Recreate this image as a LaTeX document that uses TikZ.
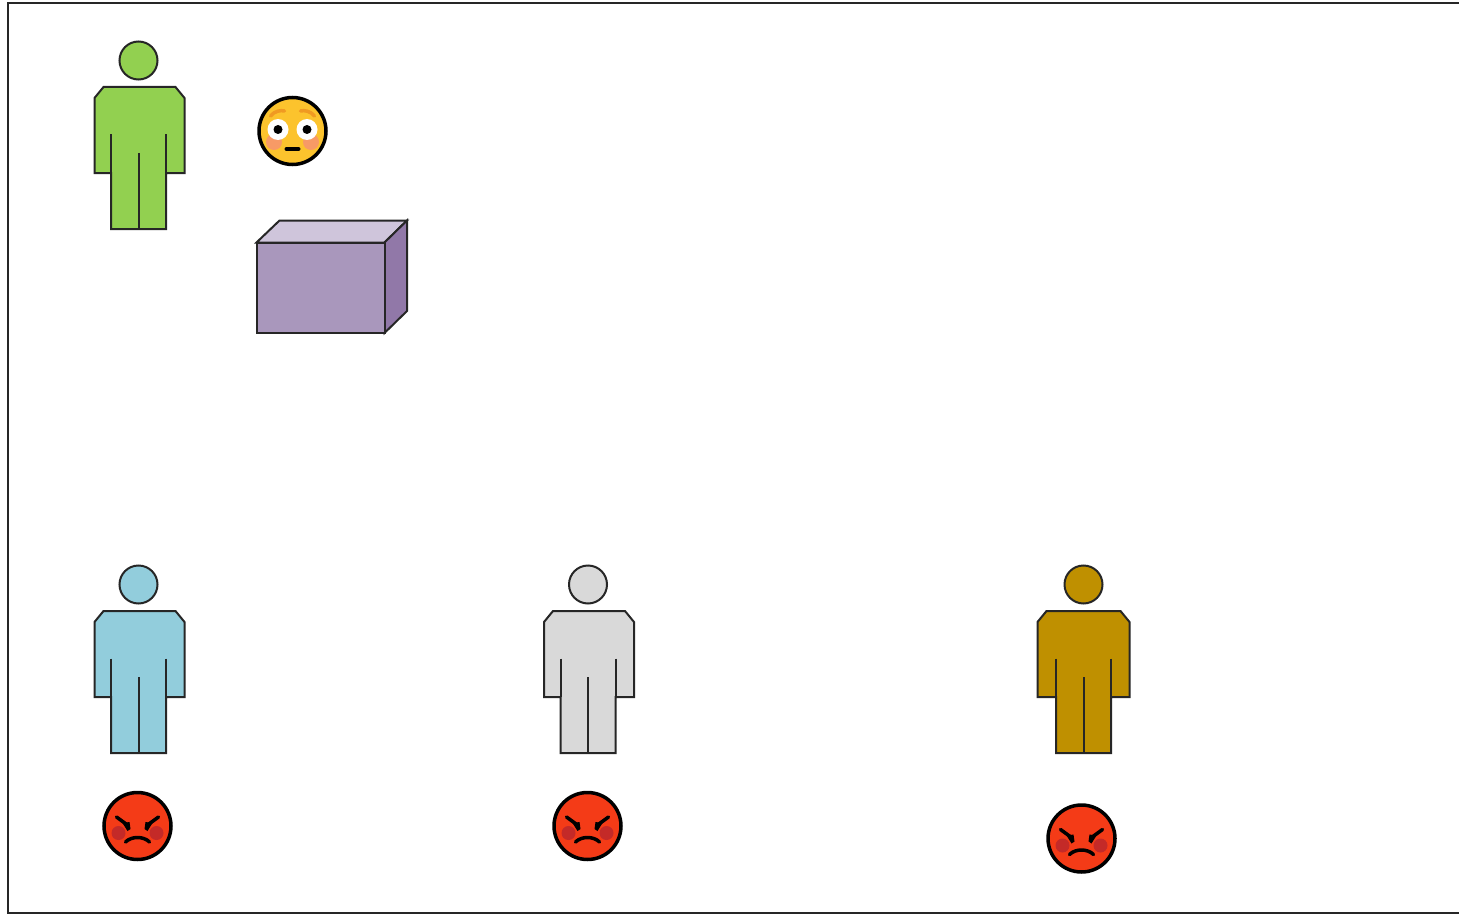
\documentclass[tikz,border=0pt]{standalone}
\usepackage{tikz}

\definecolor{boxfront}{HTML}{A997BC}
\definecolor{boxtop}{HTML}{CFC5DB}
\definecolor{boxside}{HTML}{9178A8}
\definecolor{persongreen}{HTML}{92D050}
\definecolor{personblue}{HTML}{92CDDC}
\definecolor{persongray}{HTML}{D9D9D9}
\definecolor{persongold}{HTML}{BF9000}
\definecolor{faceyellow}{HTML}{FCC32D}
\definecolor{facebrow}{HTML}{F09A22}
\definecolor{faceblush}{HTML}{F79A66}
\definecolor{facered}{HTML}{F43B17}
\definecolor{facedark}{HTML}{C42A28}

\tikzset{
  outline/.style={draw=black!85, line width=2pt, line join=miter},
  pics/person/.style n args={3}{code={
    \draw[outline, fill=#1] (0,0) circle (19);
    \draw[outline, fill=#1] (-#2,37.5) -- (-#2+9,26.5) -- (#3-9,26.5) -- (#3,37.5)
      -- (#3,112.5) -- (27.5,112.5) -- (27.5,168.5) -- (-27.5,168.5) -- (-27.5,112.5)
      -- (-#2,112.5) -- cycle;
    \draw[outline] (-27.5,74) -- (-27.5,112.5);
    \draw[outline] (27.5,74) -- (27.5,112.5);
    \draw[outline] (0,92.5) -- (0,168.5);
  }},
  pics/flushed/.style={code={
    \fill[faceyellow] (0,0) circle (33);
    \fill[faceblush] (-18.5,11) circle (8);
    \fill[faceblush] (18.5,11) circle (8);
    \draw[facebrow, line width=3.5pt, line cap=round] (-22,-15) .. controls (-18,-20) and (-12,-21) .. (-8,-20);
    \draw[facebrow, line width=3.5pt, line cap=round] (22,-15) .. controls (18,-20) and (12,-21) .. (8,-20);
    \fill[white] (-14.5,-1.5) circle (10.5);
    \fill[white] (14.5,-1.5) circle (10.5);
    \fill[black] (-14.5,-1.5) circle (4.5);
    \fill[black] (14.5,-1.5) circle (4.5);
    \draw[black, line width=4pt, line cap=round] (-6,18) -- (6,18);
    \draw[black, line width=3.5pt] (0,0) circle (33.5);
  }},
  pics/angry/.style={code={
    \fill[facered] (0,0) circle (33);
    \fill[facedark] (-19,7) circle (7);
    \fill[facedark] (19,7) circle (7);
    \draw[black, line width=3.5pt, line cap=round] (-21,-9) -- (-10,-1);
    \draw[black, line width=3.5pt, line cap=round] (21,-9) -- (10,-1);
    \fill[black] (-15,-3) -- (-8,-4) -- (-7,3) -- (-10,5) -- cycle;
    \fill[black] (15,-3) -- (8,-4) -- (7,3) -- (10,5) -- cycle;
    \draw[black, line width=3.5pt, line cap=round] (-12,16) .. controls (-6,10) and (6,10) .. (12,16);
    \draw[black, line width=3.5pt] (0,0) circle (33.5);
  }}
}

\begin{document}
\begin{tikzpicture}[x=1pt, y=-1pt]
\useasboundingbox (0,0) rectangle (1459,915);
% Frame, open past the right edge
\draw[black!85, line width=2pt] (1470,3.5) -- (7.5,3.5) -- (7.5,912.5) -- (1470,912.5);

% People
\pic at (138.5,60.5) {person={persongreen}{44}{46}};
\pic at (138.5,584.5) {person={personblue}{44}{46}};
\pic at (588,584.5) {person={persongray}{44}{46}};
\pic at (1083.5,584.5) {person={persongold}{46}{46}};

% Faces
\pic at (292.5,131) {flushed};
\pic at (137.5,826) {angry};
\pic at (587.5,826) {angry};
\pic at (1081.5,838.5) {angry};

% Box
\draw[outline, fill=boxtop] (256.5,242.5) -- (279.5,220.5) -- (407,220.5) -- (384.5,242.5) -- cycle;
\draw[outline, fill=boxside] (384.5,242.5) -- (407,220.5) -- (407,311) -- (384.5,333) -- cycle;
\draw[outline, fill=boxfront] (256.5,242.5) rectangle (384.5,333);
\end{tikzpicture}
\end{document}
